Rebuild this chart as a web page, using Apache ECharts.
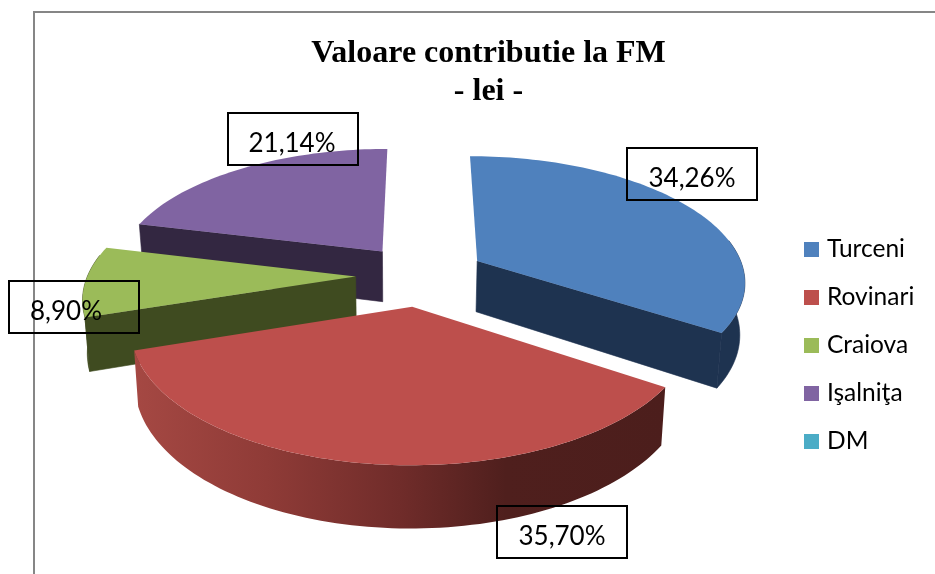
<!DOCTYPE html>
<html>
<head>
<meta charset="utf-8">
<style>html,body{margin:0;padding:0;background:#fff}#c{width:935px;height:574px}</style>
<script src="https://cdn.jsdelivr.net/npm/echarts@6/dist/echarts.min.js"></script>
</head>
<body>
<div id="c"></div>
<script>
// Data
var categories = ['Turceni', 'Rovinari', 'Craiova', 'Işalniţa', 'DM'];
var shares = [34.26, 35.70, 8.90, 21.14, 0];
var chartTitle = 'Valoare contributie la FM\n- lei -';

// Styles
var topColors = ['#4f81bd', '#bd4f4c', '#9bbb59', '#8064a2', '#4bacc6'];
var cutColors = ['#1e3350', '#4f1f1d', '#3f4b20', '#332741', '#1e4f5c'];
var seriesZ = [2, 4, 3, 1, 0];

// Layout
var view = { cx: 419.5, cy: 276, rx: 268, ry: 124.5, persp: 0.15, explode: 0.24, depth: 51.5, vanishX: 400, shrink: 0.985 };
var sliceNudge = [[2, -1], [1.5, 0], [0.5, -0.5], [1.5, -1.5], [0, 0]];
var labelBoxes = [[627, 148], [497, 506], [9, 281], [228, 113]];
var labelTextShift = [0, 0, -8, -1];
var boxSize = [130, 52];
var wallFrom = 80 / 180 * Math.PI, wallTo = 280 / 180 * Math.PI;

var total = shares.reduce(function (a, b) { return a + b; }, 0);
var starts = [];
shares.reduce(function (acc, v, i) { starts[i] = acc; return acc + v; }, 0);

function project(X, Y, low, nudge) {
  var f = 1 / (1 - view.persp * Y);
  var x = view.cx + X * view.rx * f;
  var y = view.cy + Y * view.ry * f;
  if (low) {
    x = view.vanishX + (x - view.vanishX) * view.shrink;
    y += view.depth * f;
  }
  return [x + nudge[0], y + nudge[1]];
}

function rim(a0, a1, ox, oy, low, nudge) {
  var steps = Math.max(12, Math.round((a1 - a0) * 40));
  var pts = [];
  for (var k = 0; k <= steps; k++) {
    var a = a0 + (a1 - a0) * k / steps;
    pts.push(project(ox + Math.sin(a), oy - Math.cos(a), low, nudge));
  }
  return pts;
}

function renderSlice(i) {
  return function () {
    if (!shares[i]) return { type: 'group', children: [] };
    var n = sliceNudge[i];
    var a0 = starts[i] / total * 2 * Math.PI;
    var a1 = (starts[i] + shares[i]) / total * 2 * Math.PI;
    var mid = (a0 + a1) / 2;
    var ox = Math.sin(mid) * view.explode, oy = -Math.cos(mid) * view.explode;
    var rimTop = rim(a0, a1, ox, oy, false, n), rimLow = rim(a0, a1, ox, oy, true, n);
    var last = rimTop.length - 1;
    var apexTop = project(ox, oy, false, n), apexLow = project(ox, oy, true, n);
    var wallFill = cutColors[i];
    if (i === 1) {
      wallFill = new echarts.graphic.LinearGradient(0, 0, 1, 0, [
        { offset: 0, color: '#a54843' },
        { offset: 0.25, color: '#8f3b37' },
        { offset: 0.5, color: '#702c2a' },
        { offset: 0.7, color: '#4f1f1d' },
        { offset: 1, color: '#4c1e1c' }
      ]);
    }
    var cutStyle = { fill: cutColors[i], stroke: cutColors[i], lineWidth: 0.6 };
    var kids = [];
    var w0 = Math.max(a0, wallFrom), w1 = Math.min(a1, wallTo);
    if (w1 > w0) {
      var wTop = rim(w0, w1, ox, oy, false, n), wLow = rim(w0, w1, ox, oy, true, n);
      kids.push({ type: 'polygon', shape: { points: wTop.concat(wLow.reverse()) }, style: i === 1 ? { fill: wallFill } : cutStyle });
    }
    if (-Math.sin(a0) > 1e-6) {
      kids.push({ type: 'polygon', shape: { points: [apexTop, rimTop[0], rimLow[0], apexLow] }, style: cutStyle });
    }
    if (Math.sin(a1) > 1e-6) {
      kids.push({ type: 'polygon', shape: { points: [apexTop, rimTop[last], rimLow[last], apexLow] }, style: cutStyle });
    }
    kids.push({ type: 'polygon', shape: { points: [apexTop].concat(rimTop) }, style: { fill: topColors[i] } });
    return { type: 'group', children: kids };
  };
}

var series = categories.map(function (name, i) {
  return {
    type: 'custom',
    name: name,
    coordinateSystem: 'none',
    z: seriesZ[i],
    silent: true,
    itemStyle: { color: topColors[i] },
    data: [[shares[i]]],
    renderItem: renderSlice(i)
  };
});

var graphics = [
  { type: 'polyline', z: 0, silent: true, shape: { points: [[34, 574], [34, 12], [935, 12]] }, style: { stroke: '#868686', lineWidth: 2, fill: null } }
];
labelBoxes.forEach(function (b, i) {
  graphics.push({ type: 'rect', z: 100, silent: true, shape: { x: b[0], y: b[1], width: boxSize[0], height: boxSize[1] }, style: { stroke: '#000', lineWidth: 2, fill: 'transparent' } });
  graphics.push({ type: 'text', z: 101, silent: true, x: b[0] + boxSize[0] / 2 + labelTextShift[i], y: b[1] + boxSize[1] / 2 + 5, style: {
    text: shares[i].toFixed(2).replace('.', ',') + '%', fill: '#000', font: '26px Lato', align: 'center', verticalAlign: 'middle'
  } });
});

var chart = echarts.init(document.getElementById('c'), null, { renderer: 'canvas' });
chart.setOption({
  animation: false,
  backgroundColor: '#fff',
  title: {
    text: chartTitle, left: 483.5, top: 30, textAlign: 'center',
    textStyle: { fontFamily: 'Liberation Serif', fontWeight: 'bold', fontSize: 32, color: '#000', lineHeight: 38 }
  },
  legend: {
    data: categories, orient: 'vertical', left: 804, top: 237, padding: 0, icon: 'rect', itemWidth: 15, itemHeight: 15, itemGap: 23, selectedMode: false,
    textStyle: { fontFamily: 'Lato', fontSize: 24.5, color: '#000', padding: [0, 0, 0, 3], lineHeight: 15 }
  },
  graphic: graphics,
  series: series
});
</script>
</body>
</html>
